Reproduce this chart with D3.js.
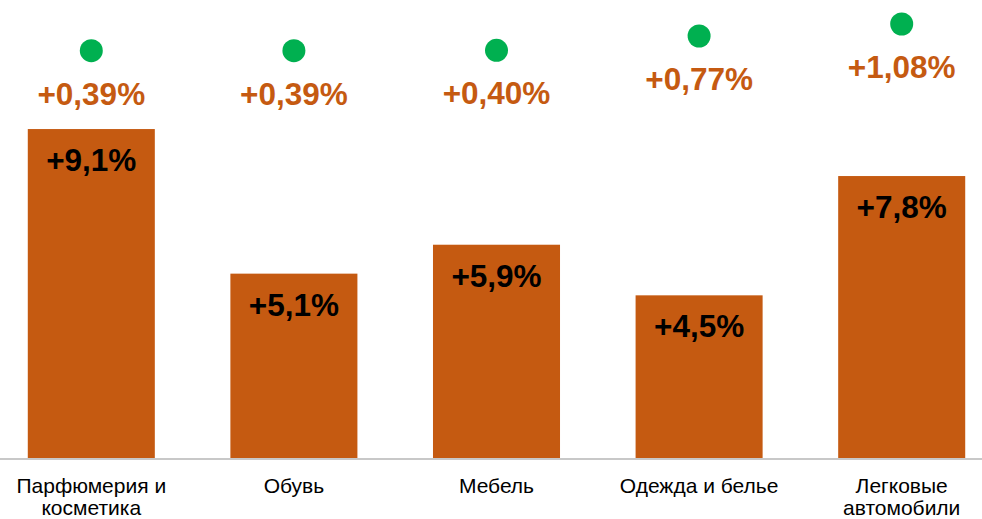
<!DOCTYPE html>
<html>
<head>
<meta charset="utf-8">
<script src="https://cdn.jsdelivr.net/npm/d3@7"></script>
<style>
  body { margin: 0; background: #fff; }
  svg { display: block; font-family: "Liberation Sans", Arial, sans-serif; }
</style>
</head>
<body>
<svg id="vis" width="982" height="519"></svg>
<script>
// data
const categories = [["Парфюмерия и", "косметика"], ["Обувь"], ["Мебель"], ["Одежда и белье"], ["Легковые", "автомобили"]];
const growth = [9.1, 5.1, 5.9, 4.5, 7.8];
const contrib = [0.39, 0.39, 0.40, 0.77, 1.08];

const fmt = (v, d) => "+" + v.toFixed(d).replace(".", ",") + "%";

const svg = d3.select("#vis");
const orange = "#c55a11";
const green = "#00b050";

const x = d3.scaleBand()
  .domain(d3.range(categories.length))
  .range([-10, 1003])
  .paddingInner(0.373)
  .paddingOuter(0.1865);

const y = d3.scaleLinear().domain([0, 12.67]).range([458, 0]);
const y2 = d3.scaleLinear().domain([0, 1.08]).range([65.8, 24]);

// bars
svg.append("g").selectAll("rect")
  .data(growth)
  .join("rect")
  .attr("x", (d, i) => x(i))
  .attr("y", d => y(d))
  .attr("width", x.bandwidth())
  .attr("height", d => y(0) - y(d))
  .attr("fill", orange);

// bar labels
svg.append("g").selectAll("text")
  .data(growth)
  .join("text")
  .attr("x", (d, i) => x(i) + x.bandwidth() / 2)
  .attr("y", d => y(d) + 42)
  .attr("text-anchor", "middle")
  .attr("font-size", "31.5px")
  .attr("font-weight", "bold")
  .attr("fill", "#000")
  .text(d => fmt(d, 1));

// axis line
svg.append("line")
  .attr("x1", 0).attr("x2", 982)
  .attr("y1", y(0) + 1).attr("y2", y(0) + 1)
  .attr("stroke", "#c8c8c8")
  .attr("stroke-width", 2);

// category labels
const cat = svg.append("g").selectAll("text")
  .data(categories)
  .join("text")
  .attr("x", (d, i) => x(i) + x.bandwidth() / 2)
  .attr("y", 493)
  .attr("text-anchor", "middle")
  .attr("font-size", "21px")
  .attr("fill", "#000");
cat.selectAll("tspan")
  .data(d => d)
  .join("tspan")
  .attr("x", function() { return d3.select(this.parentNode).attr("x"); })
  .attr("dy", (d, j) => j === 0 ? 0 : 22)
  .text(d => d);

// green markers
svg.append("g").selectAll("circle")
  .data(contrib)
  .join("circle")
  .attr("cx", (d, i) => x(i) + x.bandwidth() / 2)
  .attr("cy", d => y2(d))
  .attr("r", 11.5)
  .attr("fill", green);

// contribution labels
svg.append("g").selectAll("text")
  .data(contrib)
  .join("text")
  .attr("x", (d, i) => x(i) + x.bandwidth() / 2)
  .attr("y", d => y2(d) + 54)
  .attr("text-anchor", "middle")
  .attr("font-size", "31.5px")
  .attr("font-weight", "bold")
  .attr("fill", orange)
  .text(d => fmt(d, 2));
</script>
</body>
</html>
